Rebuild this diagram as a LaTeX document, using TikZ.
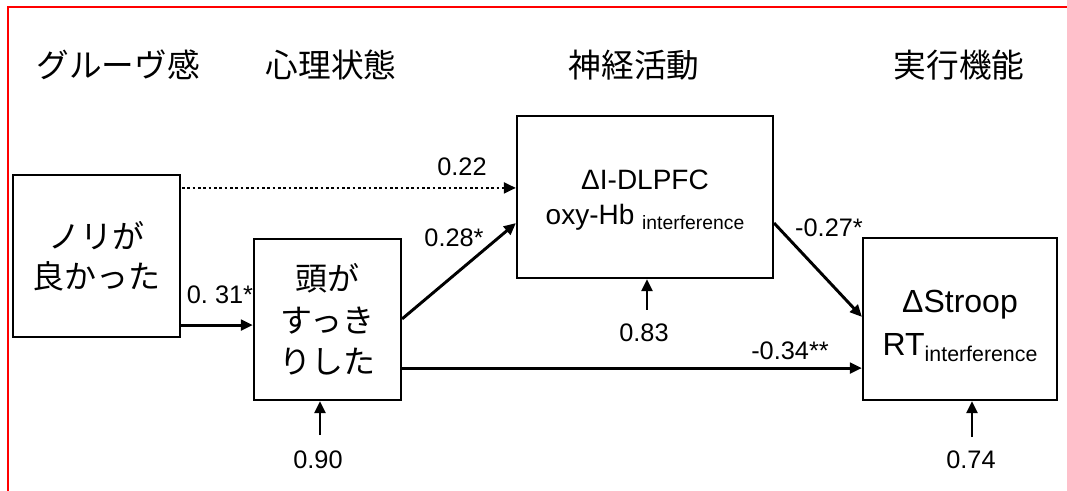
\documentclass[tikz,border=0pt]{standalone}
\usepackage{fontspec}
\setmainfont{Liberation Sans}
\newfontfamily\jp{Noto Sans CJK JP}
\usetikzlibrary{arrows.meta,calc}
\tikzset{
  box/.style={draw, line width=1.6pt, inner sep=0pt, align=center},
  boxtext/.style={inner sep=0pt, align=center},
  arr/.style={line width=2.2pt, -{Triangle[length=9pt,width=8pt]}},
  dotarr/.style={line width=2pt, dash pattern=on 2pt off 2pt, -{Triangle[length=9pt,width=8pt]}},
  head/.style={font=\jp\fontsize{24.5}{28}\selectfont, inner sep=0pt},
  num/.style={font=\fontsize{19}{20}\selectfont, inner sep=0pt},
  frame/.style={red, line width=0.9pt}
}
\begin{document}
\begin{tikzpicture}[x=0.75pt,y=-0.75pt]
\useasboundingbox (0,0) rectangle (1067,491);
\coordinate (tl) at (8,7);
\coordinate (tr) at (1067,7);
\coordinate (bl) at (8,491);
\draw[frame] (tr) -- (tl) -- (bl);
% headers
\node[head] (h1) at (118,65) {グルーヴ感};
\node[head] (h2) at (331,65) {心理状態};
\node[head] (h3) at (634,65) {神経活動};
\node[head] (h4) at (959,65) {実行機能};
% boxes
\node[box, minimum width=125.25pt, minimum height=121.5pt,
      font=\jp\fontsize{24}{30}\selectfont] (b1) at (96.5,256) {ノリが\\良かった};
\node[box, minimum width=110.25pt, minimum height=120.75pt,
      font=\jp\fontsize{24}{31}\selectfont] (b2) at (327.5,319.5) {頭が\\すっき\\りした};
\node[box, minimum width=192pt, minimum height=121.5pt] (b3) at (645,197) {};
\node[boxtext, font=\fontsize{21}{26.5}\selectfont] (t3) at ($(b3.center)+(0,3)$)
      {ΔI-DLPFC\\oxy-Hb \raisebox{-4pt}{\fontsize{14.5}{16}\selectfont interference}};
\node[box, minimum width=145.5pt, minimum height=121.5pt] (b4) at (960,319) {};
\node[boxtext, font=\fontsize{24}{32.5}\selectfont] (t4) at ($(b4.center)+(0,7)$)
      {ΔStroop\\RT\raisebox{-4.5pt}{\fontsize{16}{18}\selectfont interference}};
% paths
\draw[dotarr] ($(b1.north east)+(1,14)$) -- ($(b1.north east -| b3.west)+(0,14)$);
\draw[arr] ($(b1.south east)+(0,-13)$) -- ($(b1.south east -| b2.west)+(0,-13)$);
\draw[arr] ($(b2.north east)+(0,81)$) -- ($(b3.south west)+(0,-56)$);
\draw[arr] ($(b3.south east)+(0,-56)$) -- ($(b4.north west)+(0,80)$);
\draw[arr] ($(b2.south east)+(0,-33)$) -- ($(b2.south east -| b4.west)+(0,-33)$);
% residual arrows
\coordinate (r2) at (320,435);
\coordinate (r3) at (647,310);
\coordinate (r4) at (972,437);
\draw[arr] (r2) -- (r2 |- b2.south);
\draw[arr] (r3) -- (r3 |- b3.south);
\draw[arr] (r4) -- (r4 |- b4.south);
% labels
\node[num] (l1) at (462,167) {0.22};
\node[num] (l2) at (220,295) {0.\ 31*};
\node[num] (l3) at (454,238) {0.28*};
\node[num] (l4) at (829,228) {-0.27*};
\node[num] (l5) at (790,351) {-0.34**};
\node[num] (l6) at (318,460) {0.90};
\node[num] (l7) at (644,333) {0.83};
\node[num] (l8) at (971,460) {0.74};
\end{tikzpicture}
\end{document}
